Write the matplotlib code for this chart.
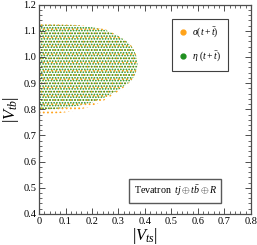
import matplotlib
matplotlib.use("Agg")
import matplotlib.pyplot as plt
from matplotlib.lines import Line2D
from matplotlib.ticker import MultipleLocator

# boundary of the allowed regions
vts = [0.00, 0.05, 0.10, 0.15, 0.20, 0.25, 0.30, 0.33, 0.35, 0.36, 0.367, 0.372]
eta_upper = [1.123, 1.123, 1.122, 1.120, 1.114, 1.104, 1.080, 1.060, 1.040, 1.022, 1.005, 0.972]
eta_lower = [0.798, 0.800, 0.806, 0.814, 0.826, 0.846, 0.874, 0.895, 0.912, 0.928, 0.945, 0.972]
sigma_upper = [1.125, 1.125, 1.124, 1.122, 1.116, 1.106, 1.082, 1.062, 1.042, 1.024, 1.007, 0.972]
sigma_lower = [0.779, 0.782, 0.788, 0.797, 0.812, 0.836, 0.868, 0.891, 0.910, 0.926, 0.944, 0.972]

labels = [r"$\sigma(t+\bar{t})$", r"$\eta\ (t+\bar{t})$"]
c_orange = "#ffa31a"
c_green = "#1f8f1f"

plt.rcParams["font.family"] = "Liberation Serif"
plt.rcParams["mathtext.fontset"] = "custom"
plt.rcParams["mathtext.rm"] = "Liberation Serif"
plt.rcParams["mathtext.it"] = "Liberation Serif:italic"
plt.rcParams["mathtext.bf"] = "Liberation Serif:bold"
plt.rcParams["hatch.linewidth"] = 0.8

fig = plt.figure(figsize=(2.57, 2.45), dpi=100)
ax = fig.add_axes([0.152, 0.127, 0.824, 0.854])

# orange under, green on top (dotted hatches give the speckled scan look)
ax.fill_between(vts, sigma_lower, sigma_upper, facecolor="none",
                edgecolor=c_orange, linewidth=0, hatch="....")
ax.fill_between(vts, eta_lower, eta_upper, facecolor="none",
                edgecolor=c_green, linewidth=0, hatch="......")

ax.set_xlim(0, 0.8)
ax.set_ylim(0.4, 1.2)
ax.xaxis.set_major_locator(MultipleLocator(0.1))
ax.xaxis.set_minor_locator(MultipleLocator(0.02))
ax.yaxis.set_major_locator(MultipleLocator(0.1))
ax.yaxis.set_minor_locator(MultipleLocator(0.02))
ax.xaxis.set_major_formatter(matplotlib.ticker.FuncFormatter(
    lambda v, p: "0" if abs(v) < 1e-9 else f"{v:.1f}"))
ax.tick_params(which="both", direction="in", top=True, right=True,
               labelsize=7.5, color="0.3", pad=2)
ax.tick_params(which="major", length=4, width=0.7)
ax.tick_params(which="minor", length=2, width=0.6)
for s in ax.spines.values():
    s.set_color("0.3")
    s.set_linewidth(0.9)

ax.set_xlabel(r"$|V_{ts}|$", fontsize=12, labelpad=0)
ax.set_ylabel(r"$|V_{tb}|$", fontsize=12, labelpad=2)

handles = [Line2D([], [], ls="none", marker="o", ms=3.5, color=c_orange),
           Line2D([], [], ls="none", marker="o", ms=3.5, color=c_green)]
leg = ax.legend(handles, labels, loc="upper right", bbox_to_anchor=(0.893, 0.932),
                borderaxespad=0, fontsize=7, fancybox=False, framealpha=1,
                edgecolor="0.25", handlelength=0.8, handletextpad=0.6,
                labelspacing=1.0, borderpad=0.7)
leg.get_frame().set_linewidth(0.8)

ax.text(0.643, 0.110, r"Tevatron $\;tj \oplus t\bar{b} \oplus R$",
        transform=ax.transAxes, ha="center", va="center", fontsize=7.2,
        bbox=dict(boxstyle="square,pad=0.45", facecolor="white",
                  edgecolor="0.35", linewidth=1.0))

plt.savefig("out.png", dpi=100)
